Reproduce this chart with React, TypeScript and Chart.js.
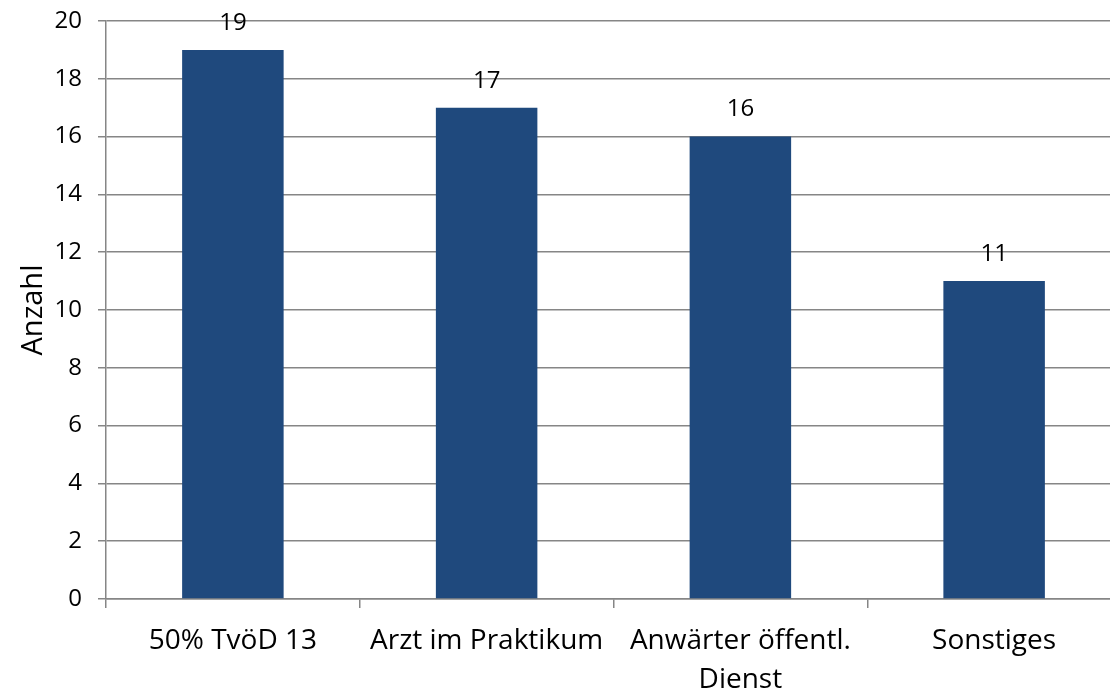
import React, { useEffect, useRef } from "react";
import { Chart, registerables } from "chart.js";

Chart.register(...registerables);

const categories: (string | string[])[] = [
  "50% TvöD 13",
  "Arzt im Praktikum",
  ["Anwärter öffentl.", "Dienst"],
  "Sonstiges",
];
const counts: number[] = [19, 17, 16, 11];
const yTitle = "Anzahl";
const yMin = 0;
const yMax = 20;
const yStep = 2;

const FONT = "'Open Sans', 'Noto Sans', sans-serif";
const GRID = "#868686";
const BAR = "#1F497D";

const valueLabels = {
  id: "valueLabels",
  afterDatasetsDraw(chart: any) {
    const ctx = chart.ctx;
    const meta = chart.getDatasetMeta(0);
    ctx.save();
    ctx.font = `24px ${FONT}`;
    ctx.fillStyle = "#000";
    ctx.textAlign = "center";
    ctx.textBaseline = "middle";
    meta.data.forEach((bar: any, i: number) => {
      ctx.fillText(String(counts[i]), bar.x, bar.y - 27);
    });
    ctx.restore();
  },
};

export default function App() {
  const ref = useRef<HTMLCanvasElement | null>(null);
  useEffect(() => {
    if (!ref.current) return;
    const chart = new Chart(ref.current, {
      type: "bar",
      data: {
        labels: categories,
        datasets: [
          {
            data: counts,
            backgroundColor: BAR,
            borderWidth: 0,
            barPercentage: 0.4,
            categoryPercentage: 1,
          },
        ],
      },
      options: {
        animation: false,
        responsive: false,
        maintainAspectRatio: false,
        layout: { padding: { top: 21, right: 1, bottom: 0, left: 0 } },
        plugins: {
          legend: { display: false },
          tooltip: { enabled: false },
        },
        scales: {
          x: {
            offset: true,
            afterFit(scale: any) {
              scale.height = 101;
            },
            grid: {
              display: true,
              offset: true,
              drawOnChartArea: false,
              drawTicks: true,
              tickLength: 9,
              color: GRID,
              lineWidth: 1.5,
            },
            border: { color: GRID, width: 1.5 },
            ticks: {
              autoSkip: false,
              maxRotation: 0,
              minRotation: 0,
              color: "#000",
              padding: 14,
              font: { family: FONT, size: 28, lineHeight: 1.37 },
            },
          },
          y: {
            min: yMin,
            max: yMax,
            afterFit(scale: any) {
              scale.width = 106;
              scale.paddingTop = 0;
              scale.paddingBottom = 0;
            },
            grid: {
              color: GRID,
              lineWidth: 1.5,
              drawTicks: true,
              tickLength: 8,
            },
            border: { color: GRID, width: 1.5 },
            ticks: {
              stepSize: yStep,
              color: "#000",
              padding: 16,
              font: { family: FONT, size: 24 },
            },
            title: {
              display: true,
              text: yTitle,
              color: "#000",
              font: { family: FONT, size: 29, lineHeight: 1.2 },
              padding: { top: 16, bottom: 7 },
            },
          },
        },
      },
      plugins: [valueLabels],
    });
    return () => chart.destroy();
  }, []);
  return (
    <div
      style={{
        position: "fixed",
        left: 0,
        top: 0,
        width: 1110,
        height: 694,
        overflow: "hidden",
        background: "#fff",
      }}
    >
      <canvas ref={ref} width={1122} height={700} style={{ display: "block" }} />
    </div>
  );
}
